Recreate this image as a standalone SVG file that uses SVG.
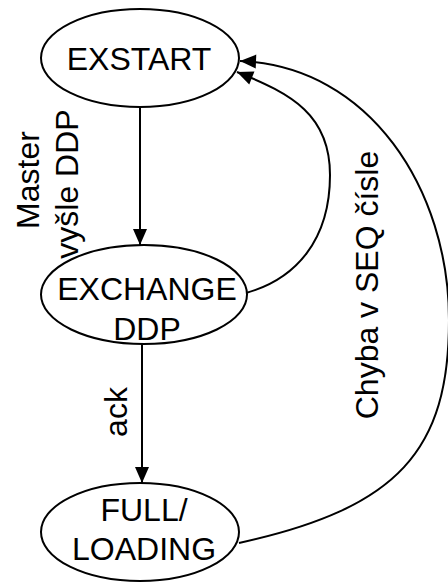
<svg xmlns="http://www.w3.org/2000/svg" width="448" height="582" viewBox="0 0 448 582">
<style>
.n{fill:#fff;stroke:#000;stroke-width:2}
.t{font-family:"Liberation Sans",Arial,sans-serif;font-size:32px;fill:#000;text-anchor:middle}
.e{fill:none;stroke:#000;stroke-width:2}
</style>
<defs>
<marker id="ah" markerUnits="userSpaceOnUse" markerWidth="16" markerHeight="14" refX="16" refY="7" orient="auto" overflow="visible">
<path d="M0,0 L16,7 L0,14 z" fill="#000"/>
</marker>
</defs>
<g id="edges">
<path class="e" d="M140,108 L140,245" marker-end="url(#ah)"/>
<path class="e" d="M142,344 L142,483" marker-end="url(#ah)"/>
<path class="e" d="M246,293 C296,279 330,240 330,175 C330,115 292,94 237,72" marker-end="url(#ah)"/>
<path class="e" d="M239,543 C399,508 449,450 449,320 C449,190 370,66 240,61" marker-end="url(#ah)"/>
</g>
<g id="EXSTART">
<ellipse class="n" cx="140" cy="58" rx="99" ry="49"/>
<text class="t" x="139" y="70">EXSTART</text>
</g>
<g id="EXCHANGE">
<ellipse class="n" cx="144" cy="294.5" rx="103" ry="49.5"/>
<text class="t" x="147" y="300">EXCHANGE</text>
<text class="t" x="147" y="340">DDP</text>
</g>
<g id="FULL">
<ellipse class="n" cx="140" cy="532" rx="99" ry="49"/>
<text class="t" x="144" y="521">FULL/</text>
<text class="t" x="144" y="560">LOADING</text>
</g>
<g id="labels">
<text class="t" transform="translate(39,180) rotate(-90)">Master</text>
<text class="t" transform="translate(78,184) rotate(-90)">vyšle DDP</text>
<text class="t" transform="translate(127,412) rotate(-90)">ack</text>
<text class="t" transform="translate(378,285) rotate(-90)">Chyba v SEQ čísle</text>
</g>
</svg>
